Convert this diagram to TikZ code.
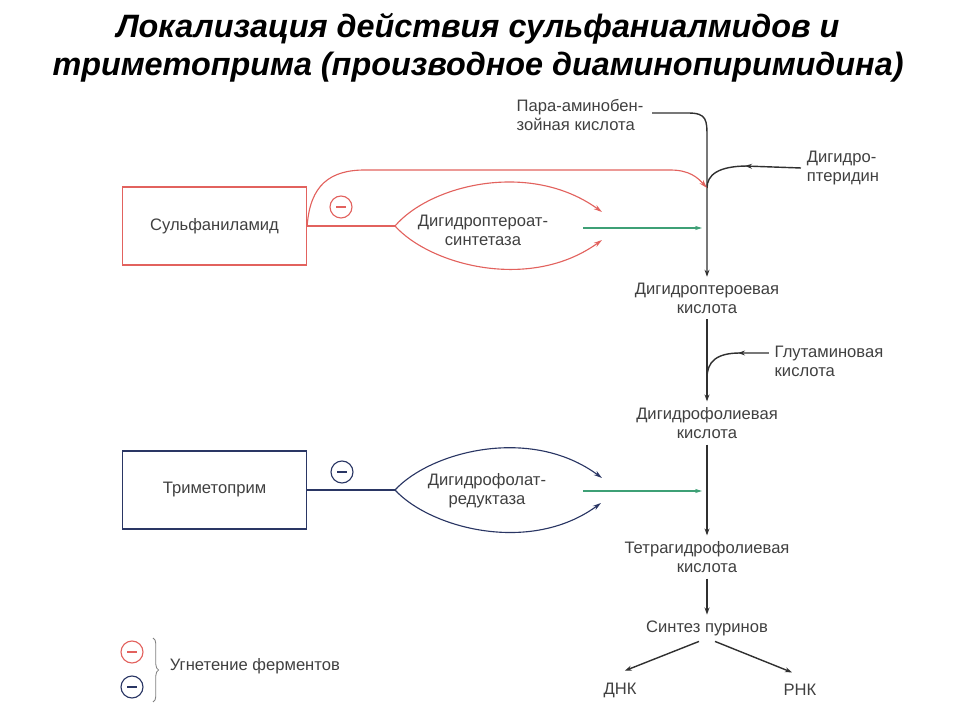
\documentclass[tikz,border=0pt]{standalone}
\usepackage{fontspec}
\setmainfont{Liberation Sans}
\usetikzlibrary{arrows.meta,decorations.pathreplacing}
\definecolor{inhred}{RGB}{226,98,94}
\definecolor{inhblue}{RGB}{42,54,100}
\definecolor{enzgreen}{RGB}{62,160,118}
\definecolor{pathgray}{RGB}{48,48,48}

\begin{document}
\begin{tikzpicture}[x=0.025cm, y=-0.025cm,
    every node/.style={font=\fontsize{11.8}{13.6}\selectfont, text=black!75},
    drug/.style={draw, line width=0.9pt, minimum width=4.6cm, minimum height=1.95cm},
    metab/.style={align=center, inner sep=4pt},
    flow/.style={-{Stealth[length=5pt,width=3.5pt]}, line width=1pt, pathgray},
    inh/.style={-{Stealth[length=6pt,width=3.5pt]}, line width=0.8pt},
    enz/.style={-{Stealth[length=5pt,width=3pt]}, line width=1pt, enzgreen},
    minus/.style={circle, draw=#1, line width=0.8pt, minimum size=0.55cm, inner sep=0pt,
      path picture={\draw[#1, line width=0.9pt] ([xshift=-3.5pt]path picture bounding box.center)
        -- ([xshift=3.5pt]path picture bounding box.center);}}
  ]
  \useasboundingbox (0,0) rectangle (960,720);

  \node[font=\fontsize{23}{27}\selectfont\bfseries\itshape, text=black, align=center] (title) at (478,48)
    {Локализация действия сульфаниалмидов и\\триметоприма (производное диаминопиримидина)};

  \node[drug, draw=inhred] (sulf) at (214.5,226) {Сульфаниламид};
  \node[drug, draw=inhblue] (trim) at (214.5,490) {Триметоприм};

  \node[metab, align=left] (pab) at (580,115) {Пара-аминобен-\\зойная кислота};
  \node[metab, align=left] (dhpt) at (843,168) {Дигидро-\\птеридин};
  \node[metab] (dhpa) at (707,298) {Дигидроптероевая\\кислота};
  \node[metab, align=left] (glu) at (829,361) {Глутаминовая\\кислота};
  \node[metab] (dhfa) at (707,423) {Дигидрофолиевая\\кислота};
  \node[metab] (thfa) at (707,557) {Тетрагидрофолиевая\\кислота};
  \node[metab] (pur) at (707,628) {Синтез пуринов};
  \node[metab] (dna) at (620,690) {ДНК};
  \node[metab] (rna) at (800,690) {РНК};

  \node[metab] (dhps) at (483,230) {Дигидроптероат-\\синтетаза};
  \node[metab] (dhfr) at (487,491) {Дигидрофолат-\\редуктаза};

  \node[minus=inhred] (inhS) at (341,207) {};
  \node[minus=inhblue] (inhT) at (342,472) {};
  \node[minus=inhred] (legR) at (132,652) {};
  \node[minus=inhblue] (legB) at (132,687) {};
  \node[metab, anchor=west] (legtxt) at (164,666) {Угнетение ферментов};

  \coordinate (forkS) at (395,226);
  \coordinate (forkT) at (395,490);
  \coordinate (pabin) at (652,113);
  \coordinate (joinA) at (707,188);
  \coordinate (joinB) at (707,378);
  \coordinate (dhpsU) at (602,212);
  \coordinate (dhpsL) at (602,240);
  \coordinate (dhfrU) at (602,478);
  \coordinate (dhfrL) at (601,503);
  \coordinate (gSin) at (583,228);
  \coordinate (gSout) at (702,228);
  \coordinate (gTin) at (583,491);
  \coordinate (gTout) at (702,491);

  \draw[flow] (pabin) -- (688,113) .. controls (707,113) and (707,120) .. (707,138) -- (dhpa);
  \draw[flow] (dhpt.west) -- (745,166);
  \draw[line width=1pt, pathgray] (748,166) .. controls (718,166) and (707,175) .. (joinA);
  \draw[flow] (dhpa) -- (dhfa);
  \draw[flow] ([yshift=0.2cm]glu.west) -- (738,353);
  \draw[line width=1pt, pathgray] (740,353) .. controls (716,353) and (707,362) .. (joinB);
  \draw[flow] (dhfa) -- (thfa);
  \draw[flow] (thfa) -- (pur);
  \draw[flow] ([xshift=-0.2cm]pur.south) -- ([xshift=0.12cm,yshift=0.15cm]dna.north);
  \draw[flow] ([xshift=0.2cm]pur.south) -- ([xshift=-0.2cm,yshift=0.15cm]rna.north);

  \draw[line width=0.8pt, inhred] (sulf.east) -- (forkS);
  \draw[inh, inhred] (sulf.east) .. controls (310,185) and (330,170) .. (365,170) -- (670,170)
    .. controls (690,170) and (698,178) .. (joinA);
  \draw[inh, inhred] (forkS) .. controls (430,185) and (530,160) .. (dhpsU);
  \draw[inh, inhred] (forkS) .. controls (430,265) and (530,292) .. (dhpsL);
  \draw[enz] (gSin) -- (gSout);

  \draw[line width=0.8pt, inhblue] (trim.east) -- (forkT);
  \draw[inh, inhblue] (forkT) .. controls (430,452) and (530,425) .. (dhfrU);
  \draw[inh, inhblue] (forkT) .. controls (430,528) and (530,555) .. (dhfrL);
  \draw[enz] (gTin) -- (gTout);

  \draw[decorate, decoration={brace, amplitude=4pt}, gray, line width=0.6pt] (153,638) -- (153,702);
\end{tikzpicture}
\end{document}
